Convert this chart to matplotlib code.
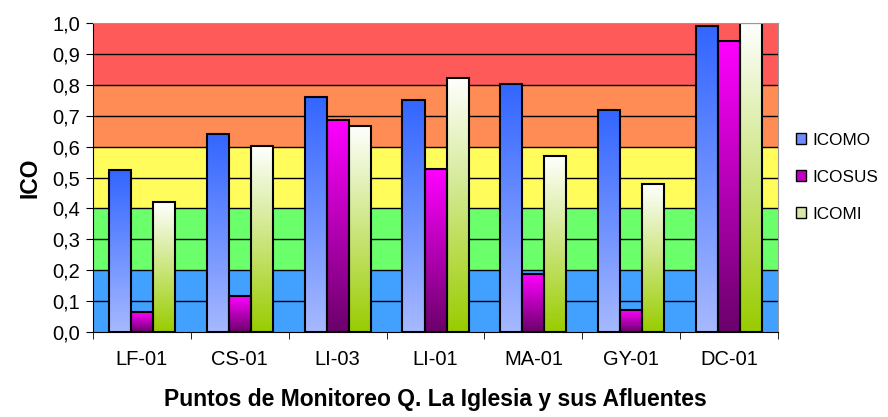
import numpy as np
import matplotlib
matplotlib.use("Agg")
import matplotlib.pyplot as plt
from matplotlib.colors import LinearSegmentedColormap
from matplotlib.patches import Patch

plt.rcParams['font.family'] = ['Liberation Sans', 'DejaVu Sans']

# --- data ---
puntos = ["LF-01", "CS-01", "LI-03", "LI-01", "MA-01", "GY-01", "DC-01"]
icomo = [0.524, 0.640, 0.762, 0.751, 0.802, 0.719, 0.991]
icosus = [0.063, 0.116, 0.685, 0.528, 0.186, 0.070, 0.943]
icomi = [0.420, 0.601, 0.666, 0.822, 0.569, 0.479, 1.000]
series_names = ["ICOMO", "ICOSUS", "ICOMI"]

# quality bands behind the bars
band_edges = [0.0, 0.2, 0.4, 0.6, 0.8, 1.0]
band_colors = ["#42a0ff", "#6bff6b", "#fffc5c", "#ff8c55", "#ff5a5a"]

# gradient colours (bottom, top) per series
grads = [("#a6b9ff", "#3366ff"), ("#6b006b", "#ff00ff"), ("#99cc00", "#ffffff")]
legend_colors = ["#6f8cff", "#c000c0", "#d8e8a8"]

fig = plt.figure(figsize=(8.88, 4.17), dpi=100)
ax = fig.add_axes([0.1047, 0.2046, 0.7715, 0.7394])

for lo, hi, c in zip(band_edges[:-1], band_edges[1:], band_colors):
    ax.axhspan(lo, hi, color=c, zorder=0, lw=0)
for y in np.arange(0.1, 1.0, 0.1):
    ax.axhline(y, color="black", lw=1, zorder=1)

x = np.arange(len(puntos))
w = 0.225
data = [icomo, icosus, icomi]
for k, (vals, (c0, c1)) in enumerate(zip(data, grads)):
    bars = ax.bar(x + (k - 1) * w, vals, w, facecolor="none", edgecolor="black",
                  lw=1.5, zorder=4)
    cmap = LinearSegmentedColormap.from_list("g%d" % k, [c0, c1])
    grad = np.linspace(0, 1, 256).reshape(-1, 1)
    for b in bars:
        x0, h = b.get_x(), b.get_height()
        ax.imshow(grad, cmap=cmap, origin="lower", aspect="auto",
                  extent=[x0, x0 + b.get_width(), 0, h], zorder=3)

ax.set_xlim(-0.5, len(puntos) - 0.5)
ax.set_ylim(0, 1.0)
ax.set_yticks(np.arange(0, 1.01, 0.1))
ax.set_yticklabels([("%.1f" % v).replace(".", ",") for v in np.arange(0, 1.01, 0.1)],
                   fontsize=14.5)
ax.set_xticks(x)
ax.set_xticklabels(puntos, fontsize=14.5)
ax.tick_params(axis="x", which="major", length=0, pad=13)
ax.set_xticks(np.arange(-0.5, len(puntos), 1), minor=True)
ax.tick_params(axis="x", which="minor", length=5, direction="out")
ax.tick_params(axis="y", length=5, direction="out", pad=4)

for s in ["top", "right"]:
    ax.spines[s].set_color("#999999")
ax.spines["left"].set_color("black")
ax.spines["bottom"].set_color("black")
for sp in ax.spines.values():
    sp.set_zorder(5)

ax.set_ylabel("ICO", fontsize=16.5, fontweight="bold", labelpad=8)
ax.set_xlabel("Puntos de Monitoreo Q. La Iglesia y sus Afluentes",
              fontsize=16.5, fontweight="bold", labelpad=14)

handles = [Patch(facecolor=c, edgecolor="black", lw=1) for c in legend_colors]
fig.legend(handles, series_names, loc="center left", bbox_to_anchor=(0.896, 0.575),
           frameon=False, fontsize=12.3, handlelength=0.6, handleheight=0.6,
           labelspacing=1.3, handletextpad=0.4, borderpad=0, borderaxespad=0)

fig.savefig("out.png", dpi=100)
